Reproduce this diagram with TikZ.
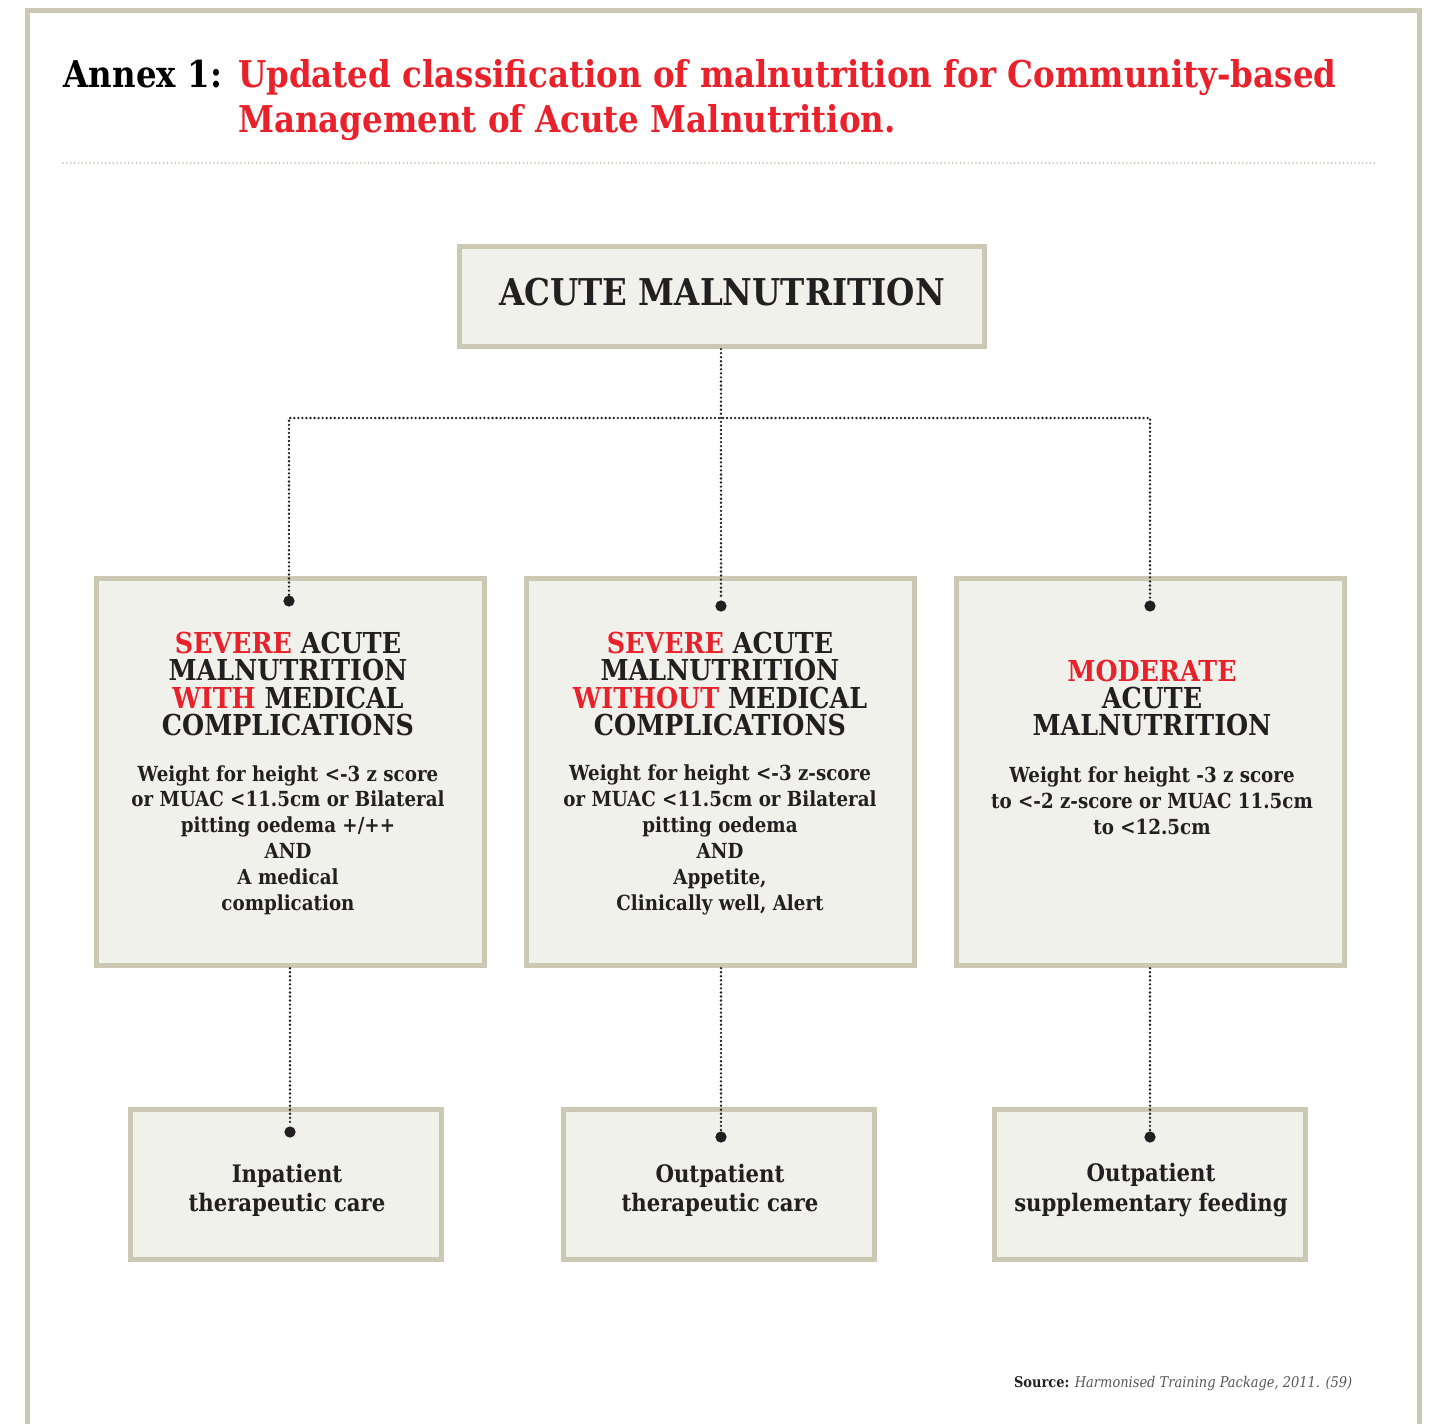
\documentclass[tikz,border=0pt]{standalone}
\usepackage{fontspec}
\setmainfont{DejaVu Serif}[FakeStretch=0.88]
\usetikzlibrary{positioning}

\definecolor{annexred}{HTML}{E8212B}
\definecolor{boxfill}{HTML}{F1F1EC}
\definecolor{boxline}{HTML}{CBC8B4}
\definecolor{ink}{HTML}{231F20}
\definecolor{srcgray}{HTML}{555555}
\definecolor{rulegray}{HTML}{B9B9B0}

\tikzset{
  frameline/.style={draw=boxline, line width=1.45pt},
  classbox/.style={draw=boxline, line width=1.45pt, fill=boxfill, inner sep=0pt},
  headtext/.style={align=center, inner sep=0pt, text=ink, font=\bfseries\fontsize{8.2}{7.7}\selectfont},
  bodytext/.style={align=center, inner sep=0pt, text=ink, font=\bfseries\fontsize{5.9}{7.35}\selectfont},
  caretext/.style={align=center, inner sep=0pt, text=ink, font=\bfseries\fontsize{6.85}{8.25}\selectfont},
  joint/.style={circle, fill=ink, inner sep=0pt, minimum size=3.2pt},
  conn/.style={draw=ink, line width=0.75pt, line cap=round, dash pattern=on 0pt off 1.15pt},
}
\newcommand{\hl}[1]{\textcolor{annexred}{#1}}

\begin{document}
\begin{tikzpicture}[x=0.01cm, y=-0.01cm]
  \useasboundingbox (0,0) rectangle (1430,1423);
  % frame and title
  \draw[frameline] (27.5,1430) |- (1419.5,10.5) -- (1419.5,1430);
  \node[anchor=north west, inner sep=0pt, font=\bfseries\fontsize{10.5}{12.8}\selectfont] (title) at (63,55)
    {\begin{tabular}{@{}l@{\hspace{0.16cm}}l@{}}
      Annex 1: & \hl{Updated classification of malnutrition for Community-based}\\
               & \hl{Management of Acute Malnutrition.}
    \end{tabular}};
  \coordinate (ruleL) at (63,163);
  \coordinate (ruleR) at (1375,163);
  \draw[draw=rulegray, line width=0.5pt, line cap=round, dash pattern=on 0pt off 1.1pt] (ruleL) -- (ruleR);

  % boxes
  \node[classbox, minimum width=5.25cm, minimum height=1.00cm, text depth=2.6pt,
        font=\bfseries\fontsize{10.5}{12}\selectfont, text=ink] (acute) at (722,296.5) {ACUTE MALNUTRITION};

  \node[classbox, minimum width=3.88cm, minimum height=3.87cm] (samwith) at (290.5,772) {};
  \node[classbox, minimum width=3.88cm, minimum height=3.87cm] (samwithout) at (720.5,772) {};
  \node[classbox, minimum width=3.88cm, minimum height=3.87cm] (mam) at (1150.5,772) {};

  \node[classbox, minimum width=3.11cm, minimum height=1.50cm] (inpatient) at (286,1184.5) {};
  \node[classbox, minimum width=3.11cm, minimum height=1.50cm] (outpatient) at (719,1184.5) {};
  \node[classbox, minimum width=3.11cm, minimum height=1.50cm] (feeding) at (1150,1184.5) {};

  % texts in boxes
  \node[headtext] (samwithH) at (288,684) {\hl{SEVERE} ACUTE\\MALNUTRITION\\\hl{WITH} MEDICAL\\COMPLICATIONS};
  \node[bodytext] (samwithB) at (288,840) {Weight for height <-3 z score\\or MUAC <11.5cm or Bilateral\\pitting oedema +/++\\AND\\A medical\\complication};
  \node[headtext] (samwithoutH) at (720,684) {\hl{SEVERE} ACUTE\\MALNUTRITION\\\hl{WITHOUT} MEDICAL\\COMPLICATIONS};
  \node[bodytext] (samwithoutB) at (720,840) {Weight for height <-3 z-score\\or MUAC <11.5cm or Bilateral\\pitting oedema\\AND\\Appetite,\\Clinically well, Alert};
  \node[headtext] (mamH) at (1152,698) {\hl{MODERATE}\\ACUTE\\MALNUTRITION};
  \node[bodytext] (mamB) at (1152,801) {Weight for height -3 z score\\to <-2 z-score or MUAC 11.5cm\\to <12.5cm};

  \node[caretext] (inpatientT) at (287,1190) {Inpatient\\therapeutic care};
  \node[caretext] (outpatientT) at (720,1190) {Outpatient\\therapeutic care};
  \node[caretext] (feedingT) at (1151,1190) {Outpatient\\supplementary feeding};

  % joints
  \node[joint] (jwith) at (289,601) {};
  \node[joint] (jwithout) at (721,606) {};
  \node[joint] (jmam) at (1150,606) {};
  \node[joint] (jin) at (290,1132) {};
  \node[joint] (jout) at (721,1137) {};
  \node[joint] (jfeed) at (1150,1137) {};
  \coordinate (split) at (721,418);

  % connectors
  \draw[conn] (acute.south -| jwithout) -- (jwithout);
  \draw[conn] (jwith) |- (split) -| (jmam);
  \draw[conn] (samwith.south -| jin) -- (jin);
  \draw[conn] (samwithout.south -| jout) -- (jout);
  \draw[conn] (mam.south -| jfeed) -- (jfeed);

  % source
  \node[anchor=base east, inner sep=0pt, text=srcgray, font=\fontsize{4.2}{5}\selectfont] (source) at (1353,1387)
    {\textbf{\textcolor{ink}{Source:}} \textit{Harmonised Training Package, 2011. (59)}};
\end{tikzpicture}
\end{document}
